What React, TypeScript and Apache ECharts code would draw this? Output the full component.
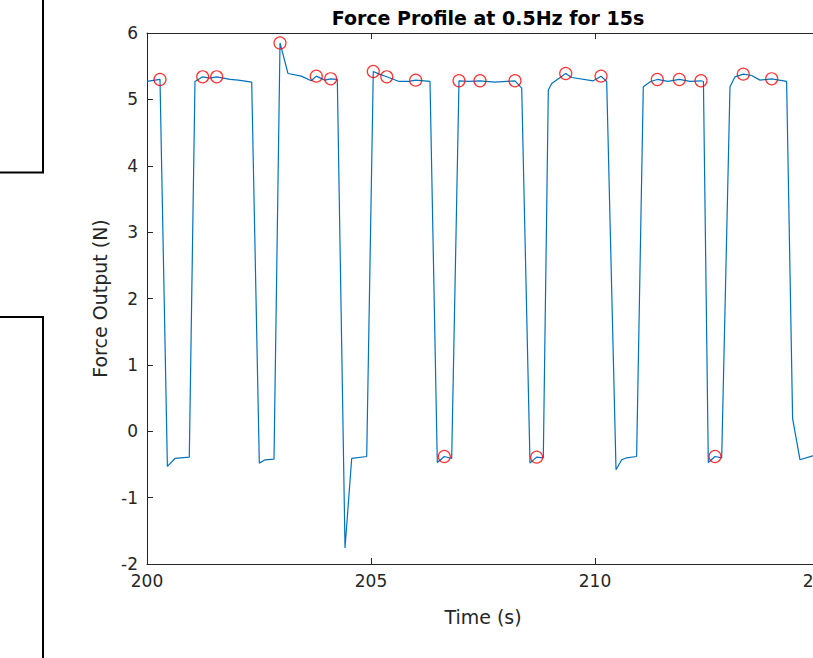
import React, { useEffect, useRef } from "react";
import * as echarts from "echarts";

const titleText = "Force Profile at 0.5Hz for 15s";
const xName = "Time (s)";
const yName = "Force Output (N)";

const time = [
  200.0, 200.29, 200.455, 200.625, 200.944, 201.071, 201.243, 201.4, 201.556, 201.853,
  202.038, 202.337, 202.507, 202.634, 202.835, 202.969, 203.147, 203.444, 203.667, 203.779,
  203.967, 204.1, 204.248, 204.42, 204.569, 204.904, 205.051, 205.185, 205.352, 205.627,
  205.85, 205.997, 206.317, 206.48, 206.636, 206.801, 206.964, 207.188, 207.433, 207.768,
  208.214, 208.364, 208.549, 208.698, 208.846, 208.958, 209.033, 209.346, 209.48, 209.962,
  210.134, 210.261, 210.469, 210.596, 210.708, 210.929, 211.078, 211.243, 211.39, 211.629,
  211.882, 212.121, 212.366, 212.42, 212.529, 212.679, 212.828, 213.013, 213.125, 213.31,
  213.498, 213.683, 213.944, 214.277, 214.411, 214.576, 214.859, 215.0,
];
const force = [
  5.27, 5.3, -0.53, -0.41, -0.39, 5.27, 5.34, 5.32, 5.34, 5.3,
  5.29, 5.26, -0.48, -0.43, -0.42, 5.85, 5.39, 5.35, 5.28, 5.35,
  5.29, 5.31, 5.3, -1.76, -0.41, -0.38, 5.42, 5.38, 5.34, 5.27,
  5.27, 5.29, 5.27, -0.47, -0.38, -0.41, 5.28, 5.27, 5.28, 5.26,
  5.28, 5.17, -0.48, -0.39, -0.4, 5.14, 5.24, 5.39, 5.33, 5.28,
  5.35, 5.27, -0.58, -0.43, -0.4, -0.38, 5.19, 5.27, 5.3, 5.27,
  5.3, 5.27, 5.28, 5.27, -0.47, -0.38, -0.4, 5.19, 5.34, 5.38,
  5.36, 5.29, 5.31, 5.27, 0.19, -0.43, -0.37, -0.36,
];

const peakTime = [
  200.29, 201.243, 201.556, 202.969, 203.779, 204.1, 205.051, 205.352, 205.997, 206.636,
  206.964, 207.433, 208.214, 208.698, 209.346, 210.134, 211.39, 211.882, 212.366, 212.679,
  213.31, 213.944,
];
const peakForce = [
  5.3, 5.34, 5.34, 5.85, 5.35, 5.31, 5.42, 5.34, 5.29, -0.38,
  5.28, 5.28, 5.28, -0.39, 5.39, 5.35, 5.3, 5.3, 5.28, -0.38,
  5.38, 5.31,
];

const xMin = 200;
const xMax = 215;
const xStep = 5;
const yMin = -2;
const yMax = 6;
const yStep = 1;

const FONT = "DejaVu Sans";
const AXIS_COLOR = "#262626";

export default function App() {
  const ref = useRef<HTMLDivElement>(null);
  useEffect(() => {
    if (!ref.current) return;
    const chart = echarts.init(ref.current, undefined, { renderer: "svg" });
    const tickCommon = { inside: true, length: 6, lineStyle: { color: AXIS_COLOR, width: 1 } };
    const lineCommon = { show: true, onZero: false, lineStyle: { color: AXIS_COLOR, width: 1 } };
    chart.setOption({
      animation: false,
      backgroundColor: "#ffffff",
      title: {
        text: titleText,
        left: 483,
        top: 3,
        textAlign: "center",
        textStyle: { fontFamily: FONT, fontSize: 19, fontWeight: "bold", color: "#000" },
      },
      grid: {
        left: 147,
        top: 33,
        width: 672,
        height: 531,
        containLabel: false,
        outerBoundsMode: "none",
      },
      xAxis: [
        {
          type: "value",
          position: "bottom",
          min: xMin,
          max: xMax,
          interval: xStep,
          axisLine: lineCommon,
          axisTick: tickCommon,
          splitLine: { show: false },
          axisLabel: { color: AXIS_COLOR, fontFamily: FONT, fontSize: 17, margin: 8 },
          name: xName,
          nameLocation: "middle",
          nameGap: 43,
          nameTextStyle: { color: AXIS_COLOR, fontFamily: FONT, fontSize: 19 },
        },
        {
          type: "value",
          position: "top",
          min: xMin,
          max: xMax,
          interval: xStep,
          axisLine: lineCommon,
          axisTick: tickCommon,
          splitLine: { show: false },
          axisLabel: { show: false },
        },
      ],
      yAxis: [
        {
          type: "value",
          position: "left",
          min: yMin,
          max: yMax,
          interval: yStep,
          axisLine: lineCommon,
          axisTick: tickCommon,
          splitLine: { show: false },
          axisLabel: { color: AXIS_COLOR, fontFamily: FONT, fontSize: 17, margin: 9 },
          name: yName,
          nameLocation: "middle",
          nameGap: 38,
          nameTextStyle: { color: AXIS_COLOR, fontFamily: FONT, fontSize: 19 },
        },
        {
          type: "value",
          position: "right",
          min: yMin,
          max: yMax,
          interval: yStep,
          axisLine: lineCommon,
          axisTick: tickCommon,
          splitLine: { show: false },
          axisLabel: { show: false },
        },
      ],
      graphic: [
        {
          type: "rect",
          silent: true,
          shape: { x: -10, y: -10, width: 53, height: 182.5 },
          style: { fill: "none", stroke: "#000", lineWidth: 2 },
        },
        {
          type: "rect",
          silent: true,
          shape: { x: -10, y: 317, width: 53, height: 400 },
          style: { fill: "none", stroke: "#000", lineWidth: 2 },
        },
      ],
      series: [
        {
          type: "line",
          xAxisIndex: 0,
          yAxisIndex: 0,
          data: time.map((t, i) => [t, force[i]]),
          symbol: "none",
          showSymbol: false,
          lineStyle: { color: "#0072BD", width: 1.2 },
          z: 2,
        },
        {
          type: "scatter",
          xAxisIndex: 0,
          yAxisIndex: 0,
          data: peakTime.map((t, i) => [t, peakForce[i]]),
          symbol: "circle",
          symbolSize: 12,
          itemStyle: { color: "rgba(0,0,0,0)", borderColor: "#FF0000", borderWidth: 1.2 },
          z: 3,
        },
      ],
    });
    return () => chart.dispose();
  }, []);
  return (
    <div
      ref={ref}
      style={{ position: "fixed", left: 0, top: 0, width: 813, height: 658, background: "#fff" }}
    />
  );
}
